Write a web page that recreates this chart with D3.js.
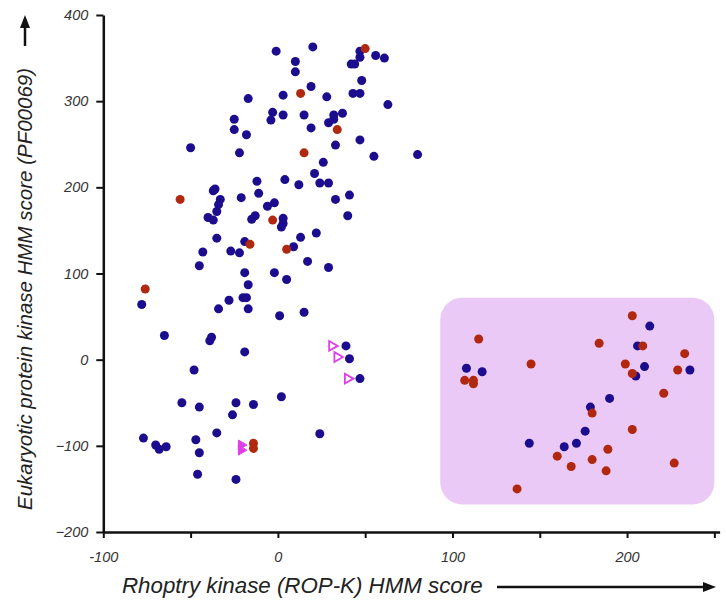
<!DOCTYPE html>
<html>
<head>
<meta charset="utf-8">
<script src="https://cdn.jsdelivr.net/npm/d3@7"></script>
<style>
  body { margin: 0; background: #fff; }
  svg { display: block; font-family: "Liberation Sans", Arial, sans-serif; }
</style>
</head>
<body>
<script>
// blue dots: [rop-k score, pf00069 score]
const blueDots = [
  [-1, 358], [20, 363], [10, 346], [10, 334], [19, 317], [-17, 303], [3, 307], [-3, 287],
  [3, 284], [-4, 278], [15, 284], [19, 269], [-25, 279], [-25, 267], [-18, 261], [-50, 246],
  [-22, 240], [21, 216], [24, 205], [-12, 207], [4, 209], [12, 203], [-36, 198], [-37, 196],
  [-11, 193], [-21, 188], [-33, 186], [-34, 180], [-35, 172], [-40, 165], [-37, 162], [-6, 178],
  [-2, 182], [3, 164], [3, 158], [2, 154], [-13, 167], [-15, 163], [22, 147], [13, 142],
  [-35, 141], [-19, 137], [9, 131], [-43, 125], [-27, 126], [-22, 124], [17, 114],
  [47, 358], [47, 351], [56, 353], [61, 350], [42, 343], [44, 343], [48, 324], [28, 305],
  [43, 309], [47, 309], [63, 296], [32, 284], [37, 286], [32, 279], [29, 275], [47, 255],
  [33, 249], [55, 236], [80, 238], [26, 229], [29, 205], [33, 186], [41, 191], [40, 167],
  [29, 107], [-45, 109], [-19, 101], [-2, 101], [5, 93], [-17, 87], [-78, 64], [-28, 69],
  [-20, 72], [-18, 72], [-34, 59], [-17, 59], [1, 51], [15, 55], [-65, 28], [-38, 26],
  [-39, 22], [-19, 9], [-48, -12], [-55, -50], [-45, -55], [-24, -50], [-14, -52], [-26, -64],
  [2, -43], [24, -86], [-77, -91], [-70, -99], [-68, -104], [-64, -101], [-47, -93], [-45, -108],
  [-35, -85], [-46, -133], [-24, -139], [39, 16], [41, 1], [47, -22],
  [213, 39], [206, 16], [108, -10], [117, -14], [210, -8], [205, -19], [236, -12], [190, -45],
  [179, -55], [176, -83], [144, -97], [171, -97], [164, -101]
];

// red dots
const redDots = [
  [13, 309], [15, 240], [-56, 186], [-3, 162], [-16, 134], [5, 128], [50, 361], [34, 267],
  [-76, 82], [-14, -97], [-14, -103],
  [203, 51], [115, 24], [184, 19], [209, 16], [233, 7], [145, -5], [199, -5], [203, -16],
  [229, -12], [107, -24], [112, -24], [112, -28], [221, -39], [180, -62], [203, -81], [189, -104],
  [160, -112], [180, -116], [227, -120], [168, -124], [188, -129], [137, -150]
];

// magenta triangles
const openTriangles = [[31, 16], [34, 3], [40, -22]];
const filledTriangles = [[-21, -99], [-21, -105]];

// highlighted region (data units)
const boxX = [93, 250];
const boxY = [-168, 72];

const xTicks = [-100, -50, 0, 50, 100, 150, 200, 250];
const yTicks = [-200, -100, 0, 100, 200, 300, 400];

const width = 726;
const height = 601;

const svg = d3.select('body')
  .append('svg')
  .attr('width', width)
  .attr('height', height);

const x = d3.scaleLinear().domain([-100, 253]).range([103.3, 719.6]);
const y = d3.scaleLinear().domain([-200, 400]).range([532, 15]);

// lavender box
svg.append('rect')
  .attr('x', x(boxX[0]))
  .attr('y', y(boxY[1]))
  .attr('width', x(boxX[1]) - x(boxX[0]))
  .attr('height', y(boxY[0]) - y(boxY[1]))
  .attr('rx', 22)
  .attr('fill', '#ebc9f6');

// axes
const xAxis = svg.append('g')
  .attr('transform', `translate(0,${y(-200)})`)
  .call(d3.axisBottom(x)
    .tickValues(xTicks)
    .tickSize(6)
    .tickSizeOuter(0)
    .tickPadding(14)
    .tickFormat((d) => (d % 100 === 0 ? d : '')));

const yAxis = svg.append('g')
  .attr('transform', `translate(${x(-100)},0)`)
  .call(d3.axisLeft(y)
    .tickValues(yTicks)
    .tickSize(7)
    .tickSizeOuter(0)
    .tickPadding(8));

[xAxis, yAxis].forEach((g) => {
  g.select('.domain').attr('stroke', '#111').attr('stroke-width', 2.5);
  g.selectAll('.tick line').attr('stroke', '#111').attr('stroke-width', 2);
  g.selectAll('.tick text')
    .attr('fill', '#333')
    .style('font-size', '14.5px')
    .style('font-style', 'italic');
});

// dots
svg.append('g')
  .selectAll('circle')
  .data(blueDots)
  .join('circle')
  .attr('cx', (d) => x(d[0]))
  .attr('cy', (d) => y(d[1]))
  .attr('r', 4.5)
  .attr('fill', '#1c0d8e');

svg.append('g')
  .selectAll('circle')
  .data(redDots)
  .join('circle')
  .attr('cx', (d) => x(d[0]))
  .attr('cy', (d) => y(d[1]))
  .attr('r', 4.5)
  .attr('fill', '#b0280f');

// triangles pointing right
const tri = d3.symbol().type(d3.symbolTriangle).size(42);

svg.append('g')
  .selectAll('path')
  .data(openTriangles)
  .join('path')
  .attr('d', tri)
  .attr('transform', (d) => `translate(${x(d[0])},${y(d[1])}) rotate(90)`)
  .attr('fill', '#fff')
  .attr('stroke', '#e03ee8')
  .attr('stroke-width', 1.8);

svg.append('g')
  .selectAll('path')
  .data(filledTriangles)
  .join('path')
  .attr('d', tri)
  .attr('transform', (d) => `translate(${x(d[0])},${y(d[1])}) rotate(90)`)
  .attr('fill', '#e03ee8')
  .attr('stroke', '#e03ee8')
  .attr('stroke-width', 1);

// axis titles with arrows
svg.append('text')
  .text('Rhoptry kinase (ROP-K) HMM score')
  .attr('x', 122)
  .attr('y', 593)
  .attr('fill', '#222')
  .style('font-size', '22.3px')
  .style('font-style', 'italic');

svg.append('line')
  .attr('x1', 497)
  .attr('y1', 587)
  .attr('x2', 704)
  .attr('y2', 587)
  .attr('stroke', '#111')
  .attr('stroke-width', 2.5);

svg.append('path')
  .attr('d', 'M703,582 L716,587 L703,592 Z')
  .attr('fill', '#111');

svg.append('text')
  .text('Eukaryotic protein kinase HMM score (PF00069)')
  .attr('transform', 'translate(32,289) rotate(-90)')
  .attr('text-anchor', 'middle')
  .attr('fill', '#222')
  .style('font-size', '20.5px')
  .style('font-style', 'italic');

svg.append('line')
  .attr('x1', 25)
  .attr('y1', 46)
  .attr('x2', 25)
  .attr('y2', 27)
  .attr('stroke', '#111')
  .attr('stroke-width', 2.5);

svg.append('path')
  .attr('d', 'M20,28 L25,15 L30,28 Z')
  .attr('fill', '#111');
</script>
</body>
</html>
